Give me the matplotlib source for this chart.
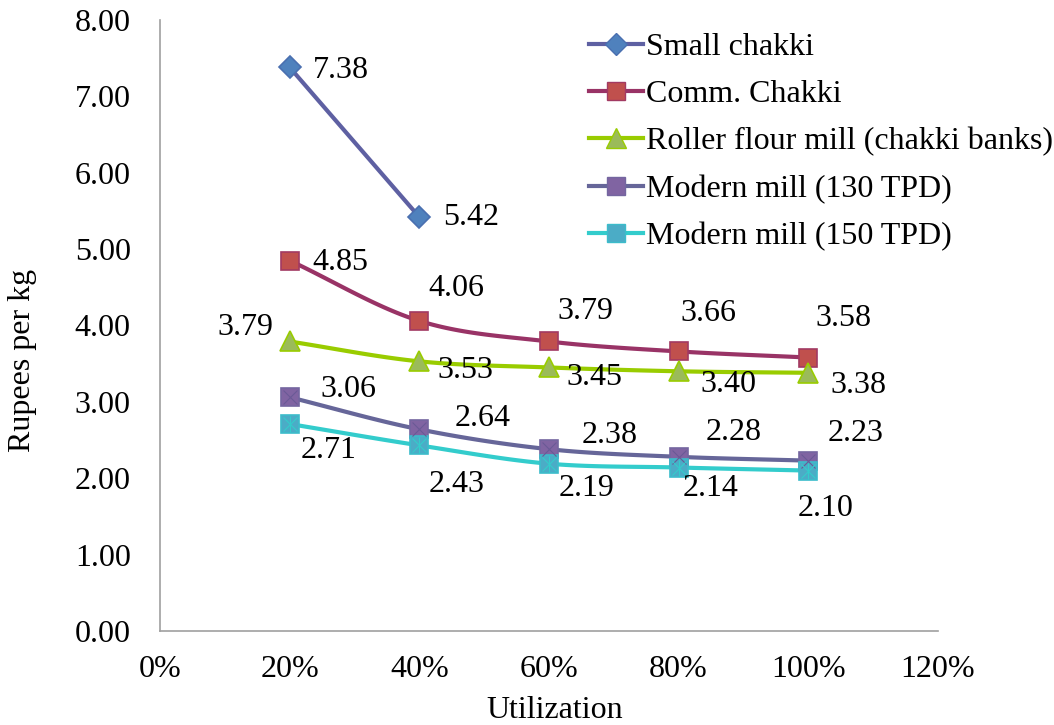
import numpy as np
import matplotlib
matplotlib.use("Agg")
from matplotlib import pyplot as plt
from matplotlib.ticker import FuncFormatter

# Cost of milling at different utilization levels
utilization = [0.2, 0.4, 0.6, 0.8, 1.0]
small_chakki = [7.38, 5.42]
comm_chakki = [4.85, 4.06, 3.79, 3.66, 3.58]
roller_mill = [3.79, 3.53, 3.45, 3.40, 3.38]
modern_130 = [3.06, 2.64, 2.38, 2.28, 2.23]
modern_150 = [2.71, 2.43, 2.19, 2.14, 2.10]

series_names = ["Small chakki", "Comm. Chakki", "Roller flour mill (chakki banks)",
                "Modern mill (130 TPD)", "Modern mill (150 TPD)"]

# label offsets in pixels (dx, dy up)
label_offsets = [
    [(51, -3), (52, -1)],
    [(51, -2), (37, 32), (37, 30), (30, 38), (35, 39)],
    [(-44, 14), (46, -9), (46, -10), (50, -13), (50, -13)],
    [(59, 8), (63, 11), (61, 14), (55, 24), (47, 27)],
    [(39, -27), (37, -39), (38, -25), (32, -21), (17, -38)],
]


def smooth(x, y, n=30):
    # Catmull-Rom style curve through the points
    x = np.asarray(x, float)
    y = np.asarray(y, float)
    if len(x) < 3:
        return x, y
    px = np.concatenate([[2 * x[0] - x[1]], x, [2 * x[-1] - x[-2]]])
    py = np.concatenate([[2 * y[0] - y[1]], y, [2 * y[-1] - y[-2]]])
    xs, ys = [], []
    t = np.linspace(0, 1, n)
    for i in range(1, len(px) - 2):
        for p, out in ((px, xs), (py, ys)):
            p0, p1, p2, p3 = p[i - 1], p[i], p[i + 1], p[i + 2]
            c1 = p1 + (p2 - p0) / 6
            c2 = p2 - (p3 - p1) / 6
            out.append((1 - t) ** 3 * p1 + 3 * (1 - t) ** 2 * t * c1
                       + 3 * (1 - t) * t ** 2 * c2 + t ** 3 * p2)
    return np.concatenate(xs), np.concatenate(ys)


plt.rcParams["font.family"] = ["Liberation Serif", "DejaVu Serif"]

fig = plt.figure(figsize=(10.54, 7.25), dpi=100)
ax = fig.add_axes([0.1518, 0.1297, 0.738, 0.8428])

styles = [
    dict(line="#5E60A2", marker="D", face="#4F81BD", edge="#4A6FB0", ms=11),
    dict(line="#993366", marker="s", face="#C0504D", edge="#A23A62", ms=13),
    dict(line="#99CC00", marker="^", face="#9BBB59", edge="#99CC00", ms=14),
    dict(line="#666699", marker="s", face="#8064A2", edge="#7466A0", ms=13),
    dict(line="#33CCCC", marker="s", face="#4BACC6", edge="#3CBCCB", ms=13),
]
all_values = [small_chakki, comm_chakki, roller_mill, modern_130, modern_150]

for k, (vals, st) in enumerate(zip(all_values, styles)):
    xv = utilization[:len(vals)]
    sx, sy = smooth(xv, vals)
    ax.plot(sx, sy, color=st["line"], lw=3, zorder=2, solid_capstyle="round")
    ax.plot(xv, vals, linestyle="None", marker=st["marker"],
            markersize=st["ms"], markerfacecolor=st["face"],
            markeredgecolor=st["edge"], markeredgewidth=1.2, zorder=3)
    # inner crosses on the modern mill squares
    if k == 3:
        ax.plot(xv, vals, linestyle="None", marker="x", markersize=10,
                color="#6A5A96", markeredgewidth=0.8, zorder=4)
    if k == 4:
        ax.plot(xv, vals, linestyle="None", marker="x", markersize=10,
                color="#33CCCC", markeredgewidth=0.8, zorder=4)
        ax.plot(xv, vals, linestyle="None", marker="|", markersize=12,
                color="#33CCCC", markeredgewidth=0.8, zorder=4)
    for xi, yi, (dx, dy) in zip(xv, vals, label_offsets[k]):
        ax.annotate(f"{yi:.2f}", (xi, yi), xytext=(dx, dy), textcoords="offset pixels",
                    ha="center", va="center", fontsize=23, color="black", zorder=5)

# legend handles with line through the marker
leg_handles = []
for st in styles:
    lh, = ax.plot([], [], color=st["line"], lw=3, marker=st["marker"], markersize=st["ms"],
                  markerfacecolor=st["face"], markeredgecolor=st["edge"])
    leg_handles.append(lh)
ax.legend(leg_handles, series_names, loc="upper left", bbox_to_anchor=(0.535, 1.0),
          frameon=False, fontsize=23, handlelength=1.7, handletextpad=0.1,
          labelspacing=0.56, borderaxespad=0)

ax.set_xlim(0, 1.2)
ax.set_ylim(0, 8)
ax.set_xticks(np.arange(0, 1.21, 0.2))
ax.set_yticks(np.arange(0, 8.01, 1))
ax.xaxis.set_major_formatter(FuncFormatter(lambda v, p: f"{v * 100:.0f}%"))
ax.yaxis.set_major_formatter(FuncFormatter(lambda v, p: f"{v:.2f}"))
ax.tick_params(length=0, labelsize=23, pad=0)
ax.tick_params(axis="y", pad=21)
ax.tick_params(axis="x", pad=17)
for s in ("top", "right"):
    ax.spines[s].set_visible(False)
for s in ("left", "bottom"):
    ax.spines[s].set_color("#A0A0A0")
    ax.spines[s].set_linewidth(1.2)

ax.set_xlabel("Utilization", fontsize=23)
ax.set_ylabel("Rupees per kg", fontsize=23)
ax.xaxis.set_label_coords(0.508, -0.107)
ax.yaxis.set_label_coords(-0.158, 0.4435)

fig.savefig("out.png", dpi=100)
